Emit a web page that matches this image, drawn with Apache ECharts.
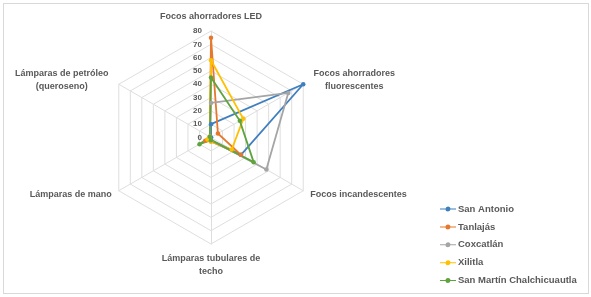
<!DOCTYPE html>
<html>
<head>
<meta charset="utf-8">
<script src="https://cdn.jsdelivr.net/npm/echarts@6/dist/echarts.min.js"></script>
<style>
html,body{margin:0;padding:0;background:#fff;}
#frame{position:absolute;left:3px;top:3px;width:584px;height:289px;border:1px solid #d9d9d9;}
#chart{position:absolute;left:0;top:0;width:591px;height:297px;}
</style>
</head>
<body>
<div id="frame"></div>
<div id="chart"></div>
<script>
// Data (clockwise order from the top, as in the reference)
var indicators = ["Focos ahorradores LED", "Focos ahorradores\nfluorescentes", "Focos incandescentes", "Lámparas tubulares de\ntecho", "Lámparas de mano", "Lámparas de petróleo\n(queroseno)"];
var seriesNames = ["San Antonio", "Tanlajás", "Coxcatlán", "Xilitla", "San Martín Chalchicuautla"];
var sanAntonio = [10, 80, 26, 2, 0, 0];
var tanlajas = [75, 6, 26, 3, 5, 1];
var coxcatlan = [26, 67, 48, 2, 2, 1];
var xilitla = [58, 28, 18, 3, 3, 1];
var sanMartin = [45, 25, 37, 2, 10, 1];
var tickLabels = [0, 10, 20, 30, 40, 50, 60, 70, 80];

var colors = ["#3f7fc0", "#e8772e", "#a5a5a5", "#ffc000", "#5fa33e"];
var values = [sanAntonio, tanlajas, coxcatlan, xilitla, sanMartin];
var axisMax = tickLabels[tickLabels.length - 1];

// ECharts lays indicators counter-clockwise; reorder to get a clockwise layout
var order = [0, 5, 4, 3, 2, 1];
function reorder(arr) { return order.map(function (k) { return arr[k]; }); }

var chart = echarts.init(document.getElementById('chart'), null, {renderer: 'canvas'});
var font = "'Liberation Sans', Arial, sans-serif";
var txtColor = '#595959';

var option = {
  backgroundColor: 'transparent',
  animation: false,
  color: colors,
  legend: {
    orient: 'vertical',
    left: 435,
    top: 199,
    height: 98,
    itemWidth: 16,
    itemHeight: 6,
    itemGap: 7.9,
    icon: 'path://M0,2.5 L16,2.5 L16,3.5 L0,3.5 Z M8,0.5 A2.5,2.5 0 1 1 7.99,0.5 Z',
    textStyle: {fontFamily: font, fontWeight: 'bold', fontSize: 9.5, color: txtColor, padding: [0,0,0,-3]},
    data: seriesNames
  },
  grid: {left: 211, top: 31, height: 106.5, width: 10},
  xAxis: {show: false, type: 'value'},
  yAxis: {
    type: 'value', min: 0, max: axisMax, interval: 10,
    axisLine: {show: false}, axisTick: {show: false}, splitLine: {show: false},
    axisLabel: {fontFamily: font, fontSize: 8, color: txtColor, fontWeight: 'bold', margin: 9}
  },
  radar: {
    center: [211, 137.5],
    radius: 106.5,
    startAngle: 90,
    shape: 'polygon',
    splitNumber: tickLabels.length - 1,
    indicator: reorder(indicators).map(function (n) { return {name: n, min: 0, max: axisMax}; }),
    axisName: {
      color: txtColor, fontFamily: font, fontWeight: 'bold', fontSize: 9, lineHeight: 13,
      formatter: function (name) {
        if (name.indexOf('fluorescentes') >= 0) {
          return name.split('\n').map(function (s) { return '{r|' + s + '}'; }).join('\n');
        }
        if (name.indexOf('petróleo') >= 0) {
          return name.split('\n').map(function (s) { return '{l|' + s + '}'; }).join('\n');
        }
        return name;
      },
      rich: {
        r: {width: 88, align: 'center', fontFamily: font, fontWeight: 'bold', fontSize: 9, lineHeight: 13, color: txtColor},
        l: {width: 100, align: 'center', fontFamily: font, fontWeight: 'bold', fontSize: 9, lineHeight: 13, color: txtColor}
      }
    },
    nameGap: 8,
    axisLine: {lineStyle: {color: '#dedede', width: 1}},
    splitLine: {lineStyle: {color: '#dedede', width: 1}},
    splitArea: {show: false},
    axisLabel: {show: false},
    axisTick: {show: false}
  },
  series: [{
    type: 'radar',
    symbol: 'circle',
    symbolSize: 4.5,
    data: values.map(function (v, i) {
      return {
        name: seriesNames[i],
        value: reorder(v),
        lineStyle: {color: colors[i], width: 1.8},
        itemStyle: {color: colors[i]}
      };
    })
  }]
};
chart.setOption(option);
</script>
</body>
</html>
